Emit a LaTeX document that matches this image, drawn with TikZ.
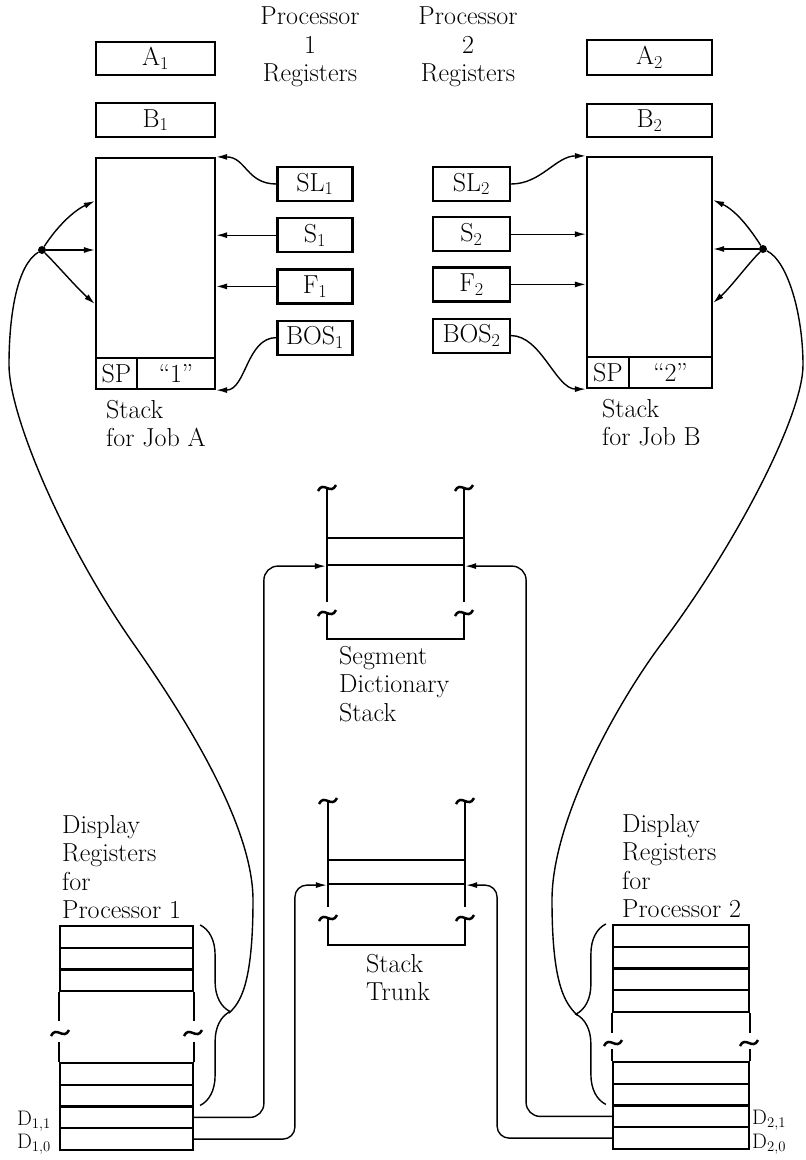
\documentclass[tikz,border=0pt]{standalone}
\usetikzlibrary{arrows.meta, positioning, decorations.pathreplacing}
\begin{document}
\begin{tikzpicture}[x=1pt, y=-1pt, font=\fontsize{26}{28.5}\selectfont,
  reg/.style={draw, line width=2.2pt, minimum width=75pt, minimum height=34pt, inner sep=0pt},
  acc/.style={reg, minimum width=119pt},
  frame/.style={draw, line width=2.2pt, inner sep=0pt, minimum height=231pt},
  cell/.style={draw, line width=2.2pt, inner sep=0pt, minimum height=31pt},
  slot/.style={draw, line width=2.2pt, inner sep=0pt, minimum height=21.75pt},
  side/.style={line width=2.5pt},
  txt/.style={align=left, inner sep=0pt},
  dlbl/.style={inner sep=0pt, font=\fontsize{21}{22}\selectfont},
  link/.style={line width=1.4pt},
  arr/.style={link, -{Latex[length=11pt, width=6pt]}},
  brc/.style={link, decorate, decoration={brace, amplitude=30pt, aspect=#1}},
  dot/.style={circle, fill, inner sep=0pt, minimum size=8pt},
  brk/.pic={\draw[side] (-9,3) .. controls (-4,-8) and (4,8) .. (9,-3);}]
  \useasboundingbox (0,0) rectangle (806,1160);

  % Nodes: processor 1
  \node[acc, minimum height=33pt] (a1) at (155.5,58.5) {A\textsubscript{1}};
  \node[acc] (b1) at (155.5,120) {B\textsubscript{1}};
  \node[frame, minimum width=119pt] (stka) at (155.5,273.5) {};
  \node[cell, minimum width=41pt] (spa) at (116.5,373.5) {SP};
  \node[cell, minimum width=78pt] (qa) at (176,373.5) {``1''};
  \node[txt, anchor=north west] (joba) at (106,400) {Stack\\for Job A};
  \node[align=center, anchor=north, inner sep=0pt] (p1lbl) at (310,7) {Processor\\1\\Registers};
  \node[reg] (sl1) at (315,184) {SL\textsubscript{1}};
  \node[reg, below=15pt of sl1] (s1) {S\textsubscript{1}};
  \node[reg, below=15pt of s1] (f1) {F\textsubscript{1}};
  \node[reg, below=15pt of f1] (bos1) {BOS\textsubscript{1}};
  \node[dot] (dota) at (42,250) {};

  % Nodes: processor 2
  \node[acc, minimum width=125pt, minimum height=35pt] (a2) at (649.5,57.5) {A\textsubscript{2}};
  \node[acc, minimum width=125pt, minimum height=33pt] (b2) at (649.5,120.5) {B\textsubscript{2}};
  \node[frame, minimum width=125pt] (stkb) at (649.5,272.5) {};
  \node[cell, minimum width=42pt] (spb) at (608,372.5) {SP};
  \node[cell, minimum width=83pt] (qb) at (670.5,372.5) {``2''};
  \node[txt, anchor=north west] (jobb) at (602,399) {Stack\\for Job B};
  \node[align=center, anchor=north, inner sep=0pt] (p2lbl) at (468,7) {Processor\\2\\Registers};
  \node[reg, minimum width=77pt] (sl2) at (471.5,184) {SL\textsubscript{2}};
  \node[reg, minimum width=77pt, below=14pt of sl2] (s2) {S\textsubscript{2}};
  \node[reg, minimum width=77pt, below=14pt of s2] (f2) {F\textsubscript{2}};
  \node[reg, minimum width=77pt, below=15pt of f2] (bos2) {BOS\textsubscript{2}};
  \node[dot] (dotb) at (763,249) {};

  % Segment dictionary stack
  \draw[side] (327,489) -- (327,602) (464,489) -- (464,602);
  \pic at (327,488) {brk}; \pic at (464,488) {brk};
  \node[slot, minimum width=137pt, minimum height=27pt] (sdrow) at (395.5,551.5) {};
  \pic at (327,613) {brk}; \pic at (464,613) {brk};
  \draw[side] (327,614) |- (464,639) -- (464,614);
  \node[txt, anchor=north west] (sdlbl) at (339,646) {Segment\\Dictionary\\Stack};

  % Stack trunk
  \draw[side] (328,802) -- (328,907) (465,802) -- (465,907);
  \pic at (328,801) {brk}; \pic at (465,801) {brk};
  \node[slot, minimum width=137pt, minimum height=24pt] (trrow) at (396.5,872) {};
  \pic at (328,918) {brk}; \pic at (465,918) {brk};
  \draw[side] (328,919) |- (465,945) -- (465,919);
  \node[txt, anchor=north west] (trlbl) at (366,954) {Stack\\Trunk};

  % Display registers
  \node[txt, anchor=north west] (disa) at (62,815) {Display\\Registers\\for\\Processor 1};
  \foreach \y/\n in {936.9/da1, 958.6/da2, 980.4/da3, 1073.9/da4, 1095.6/da5, 1117.4/d11, 1139.1/d10}
    \node[slot, minimum width=133pt] (\n) at (126.5,\y) {};
  \draw[side] (da3.south west) -- ++(0,29) (da3.south east) -- ++(0,29);
  \pic at (60,1033) {brk}; \pic at (193,1033) {brk};
  \draw[side] (da4.north west) -- ++(0,-20) (da4.north east) -- ++(0,-20);
  \node[dlbl, anchor=base east] (l11) at (51,1125) {D\textsubscript{1,1}};
  \node[dlbl, anchor=base east] (l10) at (51,1148) {D\textsubscript{1,0}};

  \node[txt, anchor=north west] (disb) at (622,814) {Display\\Registers\\for\\Processor 2};
  \foreach \y/\n in {935.9/db1, 957.6/db2, 979.4/db3, 1001.1/db4, 1072.9/db5, 1094.6/db6, 1116.4/d21, 1138.1/d20}
    \node[slot, minimum width=136pt] (\n) at (681,\y) {};
  \draw[side] (db4.south west) -- ++(0,20) (db4.south east) -- ++(0,20);
  \pic at (613,1043) {brk}; \pic at (749,1043) {brk};
  \draw[side] (db5.north west) -- ++(0,-12) (db5.north east) -- ++(0,-12);
  \node[dlbl, anchor=base west] (l21) at (752,1124) {D\textsubscript{2,1}};
  \node[dlbl, anchor=base west] (l20) at (752,1148) {D\textsubscript{2,0}};

  % Braces
  \draw[brc=0.48] ([xshift=6pt]da1.north east) -- ([xshift=6pt]d11.north east);
  \coordinate (tipa) at (229,1013);
  \draw[brc=0.5] ([xshift=-6pt]d21.north west) -- ([xshift=-6pt]db1.north west);
  \coordinate (tipb) at (577,1015);

  % Edges: registers to stacks
  \draw[arr] (sl1.west) .. controls +(-30,0) and +(30,0) .. (stka.north east);
  \draw[arr] (s1.west) -- (s1.west -| stka.east);
  \draw[arr] (f1.west) -- (f1.west -| stka.east);
  \draw[arr] (bos1.west) .. controls +(-30,0) and +(30,0) .. (stka.south east);
  \draw[arr] (sl2.east) .. controls +(30,0) and +(-30,0) .. (stkb.north west);
  \draw[arr] (s2.east) -- (s2.east -| stkb.west);
  \draw[arr] (f2.east) -- (f2.east -| stkb.west);
  \draw[arr] (bos2.east) .. controls +(30,0) and +(-30,0) .. (stkb.south west);

  % Edges: display pointers
  \draw[arr] (dota) .. controls +(14,-22) and +(-22,10) .. ([yshift=72.5pt]stka.west);
  \draw[arr] (dota) -- (dota -| stka.west);
  \draw[arr] (dota) .. controls +(16,16) and +(-18,-16) .. ([yshift=-30.5pt]stka.west);
  \draw[arr] (dotb) .. controls +(-14,-22) and +(22,10) .. ([yshift=72.5pt]stkb.east);
  \draw[arr] (dotb) -- (dotb -| stkb.east);
  \draw[arr] (dotb) .. controls +(-16,16) and +(18,-16) .. ([yshift=-30.5pt]stkb.east);
  \draw[link] (dota) .. controls +(-25,15) and (9,315) .. (9,365) .. controls (9,415) and (63,543) .. (133,643)
    .. controls (175,703) and (253,820) .. (253,900) .. controls (253,985) and (240,1003) .. (tipa);
  \draw[link] (dotb) .. controls +(25,12) and (803,315) .. (803,365) .. controls (803,415) and (737,543) .. (662,643)
    .. controls (617,703) and (552,820) .. (552,900) .. controls (552,985) and (565,1003) .. (tipb);

  % Edges: base registers to stack rows
  \draw[arr, rounded corners=14pt] (d11.east) -| ([xshift=-62pt]sdrow.south west) -- (sdrow.south west);
  \draw[arr, rounded corners=12pt] (d10.east) -| ([xshift=-32pt]trrow.south west) -- (trrow.south west);
  \draw[arr, rounded corners=14pt] (d21.west) -| ([xshift=61pt]sdrow.south east) -- (sdrow.south east);
  \draw[arr, rounded corners=12pt] (d20.west) -| ([xshift=31pt]trrow.south east) -- (trrow.south east);
\end{tikzpicture}
\end{document}
